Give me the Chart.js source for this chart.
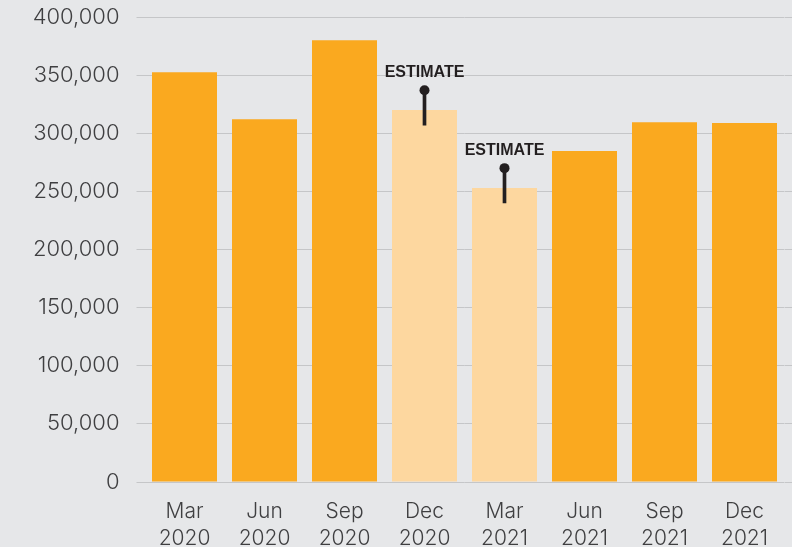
<!DOCTYPE html>
<html lang="en">
<head>
  <meta charset="UTF-8">
  <title>Quarterly chart</title>
  <script src="https://cdn.jsdelivr.net/npm/chart.js"></script>
  <style>
    html, body {
      margin: 0;
      padding: 0;
      background: #e6e7e9;
    }
    .chart-box {
      position: relative;
      width: 792px;
      height: 547px;
    }
  </style>
</head>
<body>
  <div class="chart-box">
    <canvas id="quarterChart"></canvas>
  </div>

  <script>
    // quarters on the x axis
    const quarters = [
      ['Mar', '2020'], ['Jun', '2020'], ['Sep', '2020'], ['Dec', '2020'],
      ['Mar', '2021'], ['Jun', '2021'], ['Sep', '2021'], ['Dec', '2021']
    ];
    const values = [352500, 312000, 380000, 320000, 253000, 284700, 309500, 308800];
    const isEstimate = [false, false, false, true, true, false, false, false];
    // estimate range: stem low end and dot at the top
    const estimateLow = [null, null, null, 307000, 240000, null, null, null];
    const estimateHigh = [null, null, null, 337000, 270000, null, null, null];
    const estimateText = 'ESTIMATE';

    const yMin = 0;
    const yMax = 400000;
    const yStep = 50000;

    const ORANGE = '#faa91f';
    const LIGHT = '#fdd79f';
    const DARK = '#231f20';
    const GRID = '#c5c6c8';
    const TEXT = '#3f3f41';

    // "ESTIMATE" text above each dot
    const estimateLabels = {
      id: 'estimateLabels',
      afterDatasetsDraw(chart) {
        const meta = chart.getDatasetMeta(0);
        const c = chart.ctx;
        c.save();
        c.font = 'bold 16px "Liberation Sans", Arial, sans-serif';
        c.fillStyle = DARK;
        c.textAlign = 'center';
        c.textBaseline = 'middle';
        meta.data.forEach((pt, i) => {
          if (estimateHigh[i] === null) return;
          c.fillText(estimateText, pt.x, pt.y - 18);
        });
        c.restore();
      }
    };

    const ctx = document.getElementById('quarterChart').getContext('2d');
    new Chart(ctx, {
      data: {
        labels: quarters,
        datasets: [
          {
            type: 'line',
            data: estimateHigh,
            showLine: false,
            pointRadius: 5,
            pointBackgroundColor: DARK,
            pointBorderWidth: 0,
            order: 0
          },
          {
            type: 'bar',
            data: estimateLow.map((lo, i) => lo === null ? null : [lo, estimateHigh[i]]),
            backgroundColor: DARK,
            barThickness: 3,
            grouped: false,
            order: 1
          },
          {
            type: 'bar',
            data: values,
            backgroundColor: isEstimate.map(e => e ? LIGHT : ORANGE),
            categoryPercentage: 1,
            barPercentage: 0.8125,
            grouped: false,
            order: 2
          }
        ]
      },
      options: {
        responsive: true,
        maintainAspectRatio: false,
        animation: false,
        layout: { padding: { top: 17, left: 0, right: 0, bottom: 0 } },
        plugins: {
          legend: { display: false },
          tooltip: { enabled: false }
        },
        scales: {
          x: {
            grid: { display: false },
            border: { display: false },
            ticks: {
              color: TEXT,
              padding: 8,
              maxRotation: 0,
              autoSkip: false,
              font: { family: 'Inter, "Open Sans", sans-serif', size: 21, weight: 300, lineHeight: '27px' }
            },
            afterFit(scale) { scale.height = 65; }
          },
          y: {
            min: yMin,
            max: yMax,
            border: { display: false },
            grid: { color: GRID, lineWidth: 1, tickLength: 8, tickColor: GRID },
            ticks: {
              stepSize: yStep,
              padding: 17,
              color: TEXT,
              font: { family: 'Inter, "Open Sans", sans-serif', size: 22, weight: 300 },
              callback: v => v.toLocaleString('en-US')
            },
            afterFit(scale) {
              scale.width = 144.5;
              scale.paddingTop = 0;
              scale.paddingBottom = 0;
            }
          },
          yRight: {
            position: 'right',
            min: yMin,
            max: yMax,
            border: { display: false },
            grid: { drawOnChartArea: false, tickLength: 8, tickColor: GRID },
            ticks: { stepSize: yStep, display: false },
            afterFit(scale) {
              scale.width = 7.5;
              scale.paddingTop = 0;
              scale.paddingBottom = 0;
            }
          }
        }
      },
      plugins: [estimateLabels]
    });
  </script>
</body>
</html>
